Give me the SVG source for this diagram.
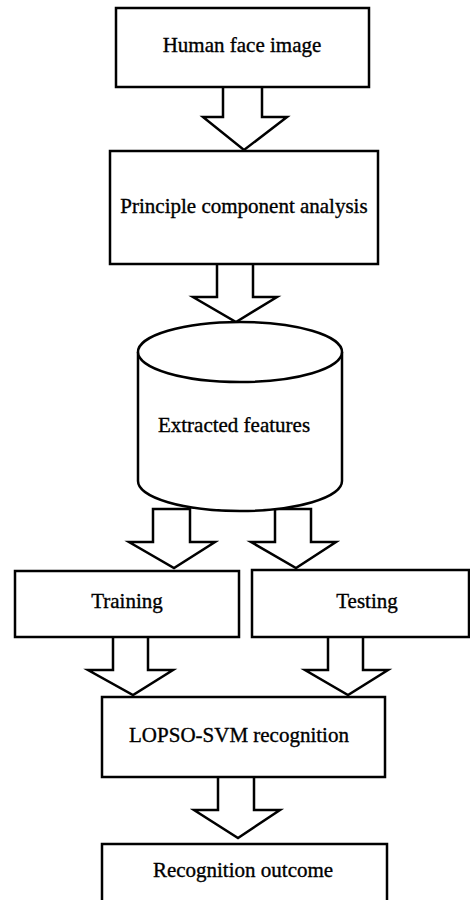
<svg xmlns="http://www.w3.org/2000/svg" width="470" height="900" viewBox="0 0 470 900">
<style>
.box{fill:#fff;stroke:#000;stroke-width:2.5}
.arr{fill:#fff;stroke:#000;stroke-width:2.5;stroke-linejoin:miter}
.t{font-family:"Liberation Serif","Times New Roman",serif;font-size:21px;fill:#000;text-anchor:middle;stroke:#000;stroke-width:0.35}
</style>
<rect width="470" height="900" fill="#fff"/>
<g id="connectors">
<path class="arr" d="M223,87 V117 H203 L244,150 L287,117 H262 V87"/>
<path class="arr" d="M217,264 V297 H193 L236,322 L277,297 H253 V264"/>
<path class="arr" d="M153,509 V542 H129 L174,568 L215,542 H190 V509 Z"/>
<path class="arr" d="M275,509 V542 H251 L296,568 L336,542 H311 V509 Z"/>
<path class="arr" d="M113,637 V670 H88 L133,695 L173,670 H148 V637"/>
<path class="arr" d="M328,637 V670 H305 L348,695 L388,670 H363 V637"/>
<path class="arr" d="M218,777 V810 H194 L238,838 L280,810 H254 V777"/>
</g>
<g id="n1">
<rect class="box" x="116" y="8" width="253" height="79"/>
<text class="t" x="242" y="52">Human face image</text>
</g>
<g id="n2">
<rect class="box" x="110" y="151" width="268" height="113"/>
<text class="t" x="244" y="213">Principle component analysis</text>
</g>
<g id="n3">
<path class="box" d="M138,352 V481 A102,30 0 0 0 342,481 V352"/>
<ellipse class="box" cx="240" cy="352" rx="102" ry="30"/>
<text class="t" x="234" y="432">Extracted features</text>
</g>
<g id="n4">
<rect class="box" x="15" y="571" width="224" height="66"/>
<text class="t" x="127" y="608">Training</text>
</g>
<g id="n5">
<rect class="box" x="252" y="570" width="217" height="67"/>
<text class="t" x="367" y="608">Testing</text>
</g>
<g id="n6">
<rect class="box" x="102" y="697" width="283" height="80"/>
<text class="t" x="239" y="742">LOPSO-SVM recognition</text>
</g>
<g id="n7">
<rect class="box" x="102" y="844" width="285" height="60"/>
<text class="t" x="243" y="877">Recognition outcome</text>
</g>
</svg>
